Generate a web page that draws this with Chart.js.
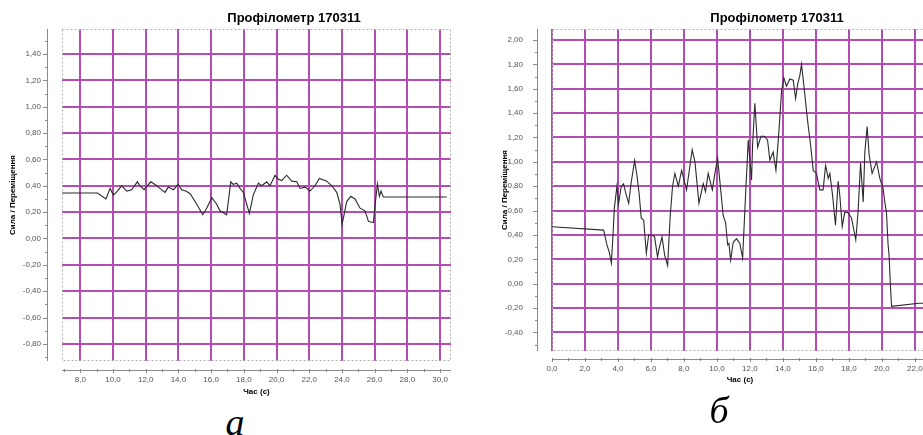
<!DOCTYPE html>
<html>
<head>
<meta charset="utf-8">
<script src="https://cdn.jsdelivr.net/npm/chart.js@4.4.0/dist/chart.umd.min.js"></script>
<style>
html, body { margin: 0; padding: 0; background: #fff; overflow: hidden; width: 923px; height: 435px; }
canvas { position: absolute; top: 0; }
#chartA { left: 0; }
#chartB { left: 460px; }
.ttl { position: absolute; top: 10px; font: bold 13px "Liberation Sans", Arial, sans-serif; white-space: nowrap; transform: translateX(-50%); color: #000; }
.cap { position: absolute; font: italic 38px "Liberation Serif", "Times New Roman", serif; line-height: 1; transform: translateX(-50%); color: #000; }
</style>
</head>
<body>
<canvas id="chartA" width="460" height="400"></canvas>
<canvas id="chartB" width="480" height="400"></canvas>
<div class="ttl" style="left:294px">Профілометр 170311</div>
<div class="ttl" style="left:777px">Профілометр 170311</div>
<div class="cap" style="left:235px; top:403px">а</div>
<div class="cap" style="left:719px; top:391px">б</div>
<script>
// chart a
const timeA = [6.88, 9.05, 9.57, 9.82, 10.02, 10.2, 10.53, 10.84, 11.14, 11.49, 11.65, 11.9, 12.31, 12.57, 12.87, 13.18, 13.38, 13.69, 13.99, 14.2, 14.45, 14.72, 15.12, 15.49, 15.73, 16.04, 16.34, 16.54, 16.95, 17.2, 17.35, 17.56, 17.77, 17.97, 18.34, 18.58, 18.89, 19.09, 19.4, 19.6, 19.91, 20.11, 20.32, 20.62, 20.93, 21.24, 21.44, 21.74, 22.05, 22.35, 22.62, 23.07, 23.38, 23.68, 23.88, 24.01, 24.13, 24.29, 24.54, 24.8, 25.11, 25.41, 25.62, 25.92, 26.02, 26.17, 26.29, 26.39, 26.53, 30.41];
const valueA = [0.345, 0.345, 0.30, 0.38, 0.33, 0.35, 0.40, 0.36, 0.37, 0.43, 0.40, 0.37, 0.43, 0.41, 0.38, 0.35, 0.39, 0.37, 0.41, 0.37, 0.36, 0.34, 0.26, 0.18, 0.23, 0.31, 0.26, 0.21, 0.18, 0.43, 0.41, 0.42, 0.38, 0.35, 0.19, 0.33, 0.42, 0.40, 0.43, 0.40, 0.48, 0.45, 0.44, 0.48, 0.435, 0.43, 0.38, 0.39, 0.36, 0.40, 0.455, 0.435, 0.40, 0.35, 0.26, 0.11, 0.18, 0.28, 0.32, 0.30, 0.23, 0.21, 0.13, 0.12, 0.245, 0.415, 0.32, 0.36, 0.315, 0.315];
const xTicksA = [8, 10, 12, 14, 16, 18, 20, 22, 24, 26, 28, 30];
const yTicksA = [-0.8, -0.6, -0.4, -0.2, 0, 0.2, 0.4, 0.6, 0.8, 1.0, 1.2, 1.4];

// chart б
const timeB = [0.0, 3.13, 3.33, 3.47, 3.6, 3.7, 3.78, 3.94, 4.04, 4.2, 4.34, 4.48, 4.65, 4.79, 5.01, 5.15, 5.29, 5.41, 5.56, 5.72, 5.86, 6.06, 6.22, 6.4, 6.5, 6.67, 6.83, 7.01, 7.17, 7.31, 7.45, 7.66, 7.86, 8.16, 8.5, 8.67, 8.91, 9.17, 9.31, 9.47, 9.72, 9.88, 10.04, 10.18, 10.38, 10.53, 10.65, 10.73, 10.83, 10.99, 11.19, 11.39, 11.56, 11.7, 11.9, 12.1, 12.16, 12.3, 12.47, 12.67, 12.87, 13.07, 13.21, 13.41, 13.58, 13.76, 13.92, 14.06, 14.22, 14.42, 14.63, 14.77, 14.9, 15.03, 15.13, 15.27, 15.44, 15.54, 15.68, 15.84, 16.04, 16.24, 16.44, 16.59, 16.75, 16.85, 17.01, 17.19, 17.35, 17.45, 17.6, 17.76, 17.96, 18.16, 18.42, 18.56, 18.71, 18.87, 18.97, 19.11, 19.23, 19.41, 19.68, 19.88, 20.08, 20.18, 20.28, 20.38, 20.44, 20.53, 20.59, 22.24, 22.8];
const valueB = [0.468, 0.44, 0.32, 0.26, 0.17, 0.40, 0.62, 0.80, 0.66, 0.80, 0.82, 0.74, 0.66, 0.82, 1.01, 0.89, 0.73, 0.54, 0.52, 0.25, 0.40, 0.40, 0.385, 0.22, 0.29, 0.385, 0.235, 0.15, 0.56, 0.80, 0.905, 0.80, 0.93, 0.77, 1.10, 1.00, 0.66, 0.82, 0.755, 0.905, 0.77, 0.905, 1.03, 0.84, 0.56, 0.50, 0.32, 0.33, 0.195, 0.34, 0.37, 0.33, 0.21, 0.62, 1.18, 0.85, 1.13, 1.48, 1.12, 1.21, 1.21, 1.18, 1.015, 1.08, 0.93, 1.25, 1.58, 1.69, 1.62, 1.68, 1.67, 1.52, 1.64, 1.71, 1.80, 1.63, 1.41, 1.29, 1.14, 0.93, 0.905, 0.77, 0.77, 0.97, 0.865, 0.905, 0.73, 0.48, 0.84, 0.73, 0.47, 0.59, 0.58, 0.54, 0.36, 0.59, 0.99, 0.67, 1.08, 1.29, 1.06, 0.905, 1.00, 0.865, 0.78, 0.67, 0.59, 0.32, 0.235, -0.04, -0.185, -0.16, -0.16];
const xTicksB = [0, 2, 4, 6, 8, 10, 12, 14, 16, 18, 20, 22];
const yTicksB = [-0.4, -0.2, 0, 0.2, 0.4, 0.6, 0.8, 1.0, 1.2, 1.4, 1.6, 1.8, 2.0];

const gridColor = '#b44cb4';
const tickFont = { family: '"Liberation Sans", Arial, sans-serif', size: 8 };
const titleFont = { family: '"Liberation Sans", Arial, sans-serif', size: 8, weight: 'bold' };

// offset axis lines with minor ticks, and the dashed frame of the plot
const axisDeco = {
    id: 'axisDeco',
    afterDraw(chart, args, opts) {
        const ctx = chart.ctx;
        const area = chart.chartArea;
        const xs = chart.scales.x, ys = chart.scales.y;
        ctx.save();
        ctx.strokeStyle = '#b0b0b0';
        ctx.lineWidth = 1;
        ctx.setLineDash([2, 2]);
        ctx.strokeRect(area.left + 0.5, area.top + 0.5, area.right - area.left - 1, area.bottom - area.top - 1);
        ctx.setLineDash([]);
        ctx.strokeStyle = '#8a8a8a';
        ctx.beginPath();
        ctx.moveTo(opts.yLineX + 0.5, area.top);
        ctx.lineTo(opts.yLineX + 0.5, area.bottom);
        ctx.moveTo(area.left, opts.xLineY + 0.5);
        ctx.lineTo(area.right, opts.xLineY + 0.5);
        for (let i = Math.ceil(ys.min * 10); i <= Math.floor(ys.max * 10); i++) {
            const py = Math.round(ys.getPixelForValue(i / 10)) + 0.5;
            const len = i % 2 === 0 ? 4 : 2;
            ctx.moveTo(opts.yLineX - len, py);
            ctx.lineTo(opts.yLineX, py);
        }
        for (let i = Math.ceil(xs.min); i <= Math.floor(xs.max); i++) {
            const px = Math.round(xs.getPixelForValue(i)) + 0.5;
            const len = i % 2 === 0 ? 3 : 2;
            ctx.moveTo(px, opts.xLineY - 1);
            ctx.lineTo(px, opts.xLineY + len);
        }
        ctx.stroke();
        ctx.restore();
    }
};

function makeChart(id, times, values, xTicks, yTicks, cfg) {
    const points = times.map((t, i) => ({ x: t, y: values[i] }));
    return new Chart(document.getElementById(id), {
        type: 'line',
        data: {
            datasets: [{
                data: points,
                borderColor: '#2b2b2b',
                borderWidth: 1.1,
                pointRadius: 0,
                tension: 0
            }]
        },
        plugins: [axisDeco],
        options: {
            responsive: false,
            animation: false,
            layout: { padding: cfg.padding },
            plugins: {
                legend: { display: false },
                tooltip: { enabled: false },
                axisDeco: { yLineX: cfg.yLineX, xLineY: cfg.xLineY }
            },
            scales: {
                x: {
                    type: 'linear',
                    min: cfg.xMin,
                    max: cfg.xMax,
                    afterBuildTicks: s => { s.ticks = xTicks.map(v => ({ value: v })); },
                    afterFit: s => {
                        s.height = cfg.xHeight;
                        s.paddingLeft = 0;
                        s.paddingRight = 0;
                    },
                    grid: { color: gridColor, lineWidth: 2, drawTicks: false },
                    border: { display: false },
                    ticks: {
                        font: tickFont,
                        color: '#555',
                        padding: cfg.xPad,
                        maxRotation: 0,
                        autoSkip: false,
                        callback: v => v.toFixed(1).replace('.', ',')
                    },
                    title: { display: true, text: 'Час (с)', font: titleFont, color: '#000', padding: { top: 0, bottom: cfg.xTitlePad } }
                },
                y: {
                    min: cfg.yMin,
                    max: cfg.yMax,
                    afterBuildTicks: s => { s.ticks = yTicks.map(v => ({ value: v })); },
                    afterFit: s => {
                        s.width = cfg.yWidth;
                        s.paddingTop = 0;
                        s.paddingBottom = 0;
                    },
                    grid: { color: gridColor, lineWidth: 2, drawTicks: false },
                    border: { display: false },
                    ticks: {
                        font: tickFont,
                        color: '#555',
                        padding: cfg.yPad,
                        autoSkip: false,
                        callback: v => v.toFixed(2).replace('.', ',')
                    },
                    title: { display: true, text: 'Сила / Переміщення', font: titleFont, color: '#000', padding: { top: cfg.yTitlePad, bottom: 0 } }
                }
            }
        }
    });
}

makeChart('chartA', timeA, valueA, xTicksA, yTicksA, {
    padding: { left: 0, top: 29, right: 9, bottom: 0 },
    xMin: 6.88, xMax: 30.67, yMin: -0.93, yMax: 1.59,
    xHeight: 39, yWidth: 62, xPad: 14, yPad: 21, xTitlePad: 3, yTitlePad: 8,
    yLineX: 47, xLineY: 370
});

makeChart('chartB', timeB, valueB, xTicksB, yTicksB, {
    padding: { left: 36, top: 29, right: 12, bottom: 0 },
    xMin: 0, xMax: 22.8, yMin: -0.552, yMax: 2.09,
    xHeight: 49, yWidth: 56, xPad: 13, yPad: 29, xTitlePad: 15, yTitlePad: 4,
    yLineX: 77, xLineY: 359
});
</script>
</body>
</html>
